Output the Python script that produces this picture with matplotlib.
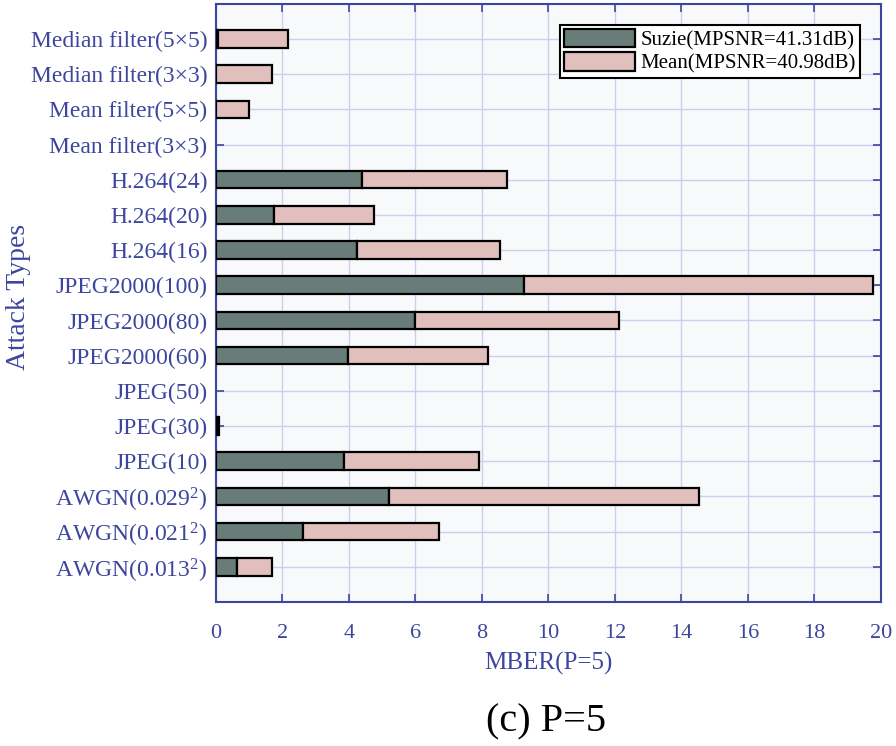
import numpy as np
import matplotlib
matplotlib.use("Agg")
import matplotlib.pyplot as plt

plt.rcParams["font.family"] = ["Liberation Serif", "DejaVu Serif"]
plt.rcParams["mathtext.fontset"] = "custom"
plt.rcParams["mathtext.rm"] = "Liberation Serif"
plt.rcParams["mathtext.it"] = "Liberation Serif"

attacks = [
    r"AWGN(0.013$^{2}$)", r"AWGN(0.021$^{2}$)", r"AWGN(0.029$^{2}$)",
    "JPEG(10)", "JPEG(30)", "JPEG(50)",
    "JPEG2000(60)", "JPEG2000(80)", "JPEG2000(100)",
    "H.264(16)", "H.264(20)", "H.264(24)",
    "Mean filter(3×3)", "Mean filter(5×5)",
    "Median filter(3×3)", "Median filter(5×5)",
]
suzie = [0.63, 2.63, 5.22, 3.84, 0.05, 0, 3.96, 6.00, 9.28, 4.23, 1.74, 4.38, 0, 0, 0, 0.05]
mean = [1.07, 4.09, 9.30, 4.08, 0.05, 0, 4.23, 6.14, 10.48, 4.32, 3.00, 4.39, 0, 1.00, 1.70, 2.12]

blue = "#3d469e"
c_suzie = "#687d78"
c_mean = "#e0bfbc"

fig = plt.figure(figsize=(8.96, 7.46), dpi=100)
ax = fig.add_axes([0.241, 0.193, 0.742, 0.802])
ax.set_facecolor("#f8f9fa")

y = np.arange(1, len(attacks) + 1)
suzie = np.array(suzie)
mean = np.array(mean)

ec_s = ["black" if v > 0 else "none" for v in suzie]
ec_m = ["black" if v > 0 else "none" for v in mean]
ax.barh(y, suzie, height=0.5, color=c_suzie, edgecolor=ec_s, linewidth=1.6,
        label="Suzie(MPSNR=41.31dB)", zorder=3)
ax.barh(y, mean, left=suzie, height=0.5, color=c_mean, edgecolor=ec_m, linewidth=1.6,
        label="Mean(MPSNR=40.98dB)", zorder=3)

ax.set_xlim(0, 20)
ax.set_ylim(0, 17)
ax.set_xticks(np.arange(0, 21, 2))
ax.set_yticks(y)
ax.set_yticklabels(attacks)

ax.grid(True, color="#cdcdf0", linewidth=1.0, zorder=0)
ax.set_axisbelow(True)
for s in ax.spines.values():
    s.set_color(blue)
    s.set_linewidth(1.5)
ax.tick_params(axis="both", direction="in", colors=blue,
               top=True, right=True, length=6, width=1.2)
ax.tick_params(axis="x", pad=16, labelsize=16)
ax.tick_params(axis="y", pad=6, labelsize=17)

ax.set_xlabel("MBER(P=5)", color=blue, fontsize=18, labelpad=6)
ax.set_ylabel("Attack Types", color=blue, fontsize=20)
ax.yaxis.set_label_coords(-0.278, 0.51)

leg = ax.legend(loc="upper right", fontsize=15, frameon=True, fancybox=False,
                handlelength=3.4, handleheight=1.0, handletextpad=0.25,
                borderpad=0.2, labelspacing=0.1, borderaxespad=1.0)
leg.get_frame().set_edgecolor("black")
leg.get_frame().set_linewidth(1.5)
leg.get_frame().set_alpha(1)

fig.text(0.61, 0.032, "(c) P=5", ha="center", va="center", fontsize=29, color="black")

fig.savefig("out.png", dpi=100)
